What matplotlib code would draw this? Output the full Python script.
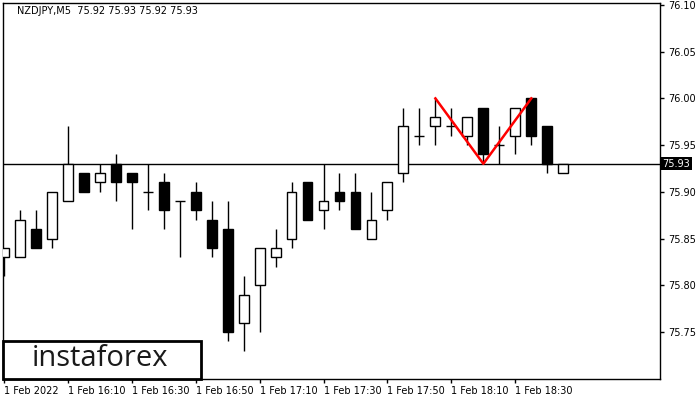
import matplotlib as mpl
import matplotlib.pyplot as plt
from matplotlib.patches import Rectangle
import numpy as np

mpl.rcParams['font.family'] = ['DejaVu Sans']
mpl.rcParams['font.size'] = 7

# NZDJPY M5 candles (open, high, low, close)
opens  = [75.83, 75.83, 75.86, 75.85, 75.89, 75.92, 75.91, 75.93, 75.92, 75.90,
          75.91, 75.89, 75.90, 75.87, 75.86, 75.76, 75.80, 75.83, 75.85, 75.91,
          75.88, 75.90, 75.90, 75.85, 75.88, 75.92, 75.96, 75.97, 75.97, 75.96,
          75.99, 75.95, 75.96, 76.00, 75.97, 75.92]
highs  = [75.84, 75.88, 75.88, 75.90, 75.97, 75.92, 75.93, 75.94, 75.92, 75.93,
          75.92, 75.89, 75.91, 75.89, 75.89, 75.81, 75.84, 75.86, 75.91, 75.91,
          75.93, 75.92, 75.92, 75.90, 75.91, 75.99, 75.99, 76.00, 75.99, 75.98,
          75.99, 75.97, 75.99, 76.00, 75.97, 75.93]
lows   = [75.81, 75.83, 75.84, 75.84, 75.89, 75.90, 75.90, 75.89, 75.86, 75.88,
          75.86, 75.83, 75.87, 75.83, 75.74, 75.73, 75.75, 75.82, 75.84, 75.87,
          75.86, 75.88, 75.86, 75.85, 75.87, 75.91, 75.95, 75.95, 75.96, 75.95,
          75.93, 75.93, 75.94, 75.95, 75.92, 75.92]
closes = [75.84, 75.87, 75.84, 75.90, 75.93, 75.90, 75.92, 75.91, 75.91, 75.90,
          75.88, 75.89, 75.88, 75.84, 75.75, 75.79, 75.84, 75.84, 75.90, 75.87,
          75.89, 75.89, 75.86, 75.87, 75.91, 75.97, 75.96, 75.98, 75.97, 75.98,
          75.94, 75.95, 75.99, 75.96, 75.93, 75.93]

time_labels = ['1 Feb 2022', '1 Feb 16:10', '1 Feb 16:30', '1 Feb 16:50', '1 Feb 17:10',
               '1 Feb 17:30', '1 Feb 17:50', '1 Feb 18:10', '1 Feb 18:30']
time_ticks = [0, 4, 8, 12, 16, 20, 24, 28, 32]
price_ticks = [75.75, 75.80, 75.85, 75.90, 75.95, 76.00, 76.05, 76.10]
last_price = 75.93

# double top pattern (bar index, price)
pattern_x = [27, 30, 33]
pattern_y = [76.00, 75.93, 76.00]

fig = plt.figure(figsize=(7, 4), dpi=100)
ax = fig.add_axes([3/700, 21/400, 657/700, 376/400])

idx = np.arange(len(opens))
o = np.array(opens); h = np.array(highs); l = np.array(lows); c = np.array(closes)
w = 0.62

# wicks
ax.vlines(idx, l, h, color='black', lw=1, zorder=2)
# bodies
for i in idx:
    if c[i] == o[i]:
        ax.hlines(o[i], i - w/2, i + w/2, color='black', lw=1, zorder=3)
    else:
        bottom = min(o[i], c[i])
        fc = 'white' if c[i] > o[i] else 'black'
        ax.bar(i, abs(c[i] - o[i]), w, bottom=bottom, color=fc,
               edgecolor='black', lw=1, zorder=3)

ax.axhline(last_price, color='black', lw=1, zorder=1)
ax.plot(pattern_x, pattern_y, color='red', lw=1.8, zorder=4)

ax.set_xlim(-0.05, 41.05)
ax.set_ylim(75.6996, 76.1021)

ax.yaxis.tick_right()
ax.set_yticks(price_ticks)
ax.set_yticklabels(['%.2f' % p for p in price_ticks])
ax.set_xticks(time_ticks)
ax.set_xticklabels(time_labels, ha='left')
ax.tick_params(axis='both', length=3, width=1, direction='out', pad=2, colors='black')
ax.tick_params(axis='y', pad=3)
for s in ax.spines.values():
    s.set_linewidth(1)

# last price label
ax.text(1.004, last_price, '%.2f' % last_price, transform=ax.get_yaxis_transform(),
        ha='left', va='center', color='white', fontsize=7,
        bbox=dict(boxstyle='square,pad=0.15', fc='black', ec='none'), clip_on=False)

ax.text(14/657, 1 - 8/376, 'NZDJPY,M5  75.92 75.93 75.92 75.93', transform=ax.transAxes,
        ha='left', va='center', fontsize=7, color='black')

# logo box
ax.add_patch(Rectangle((0, 0), 198/657, 38/376, transform=ax.transAxes,
                       fc='white', ec='black', lw=2, zorder=5, clip_on=False))
ax.text(97/657, 20/376, 'instaforex', transform=ax.transAxes, ha='center',
        va='center', fontsize=21, color='#1a1a1a', family='Open Sans',
        fontweight='normal', zorder=6)

fig.savefig('out.png', dpi=100)
